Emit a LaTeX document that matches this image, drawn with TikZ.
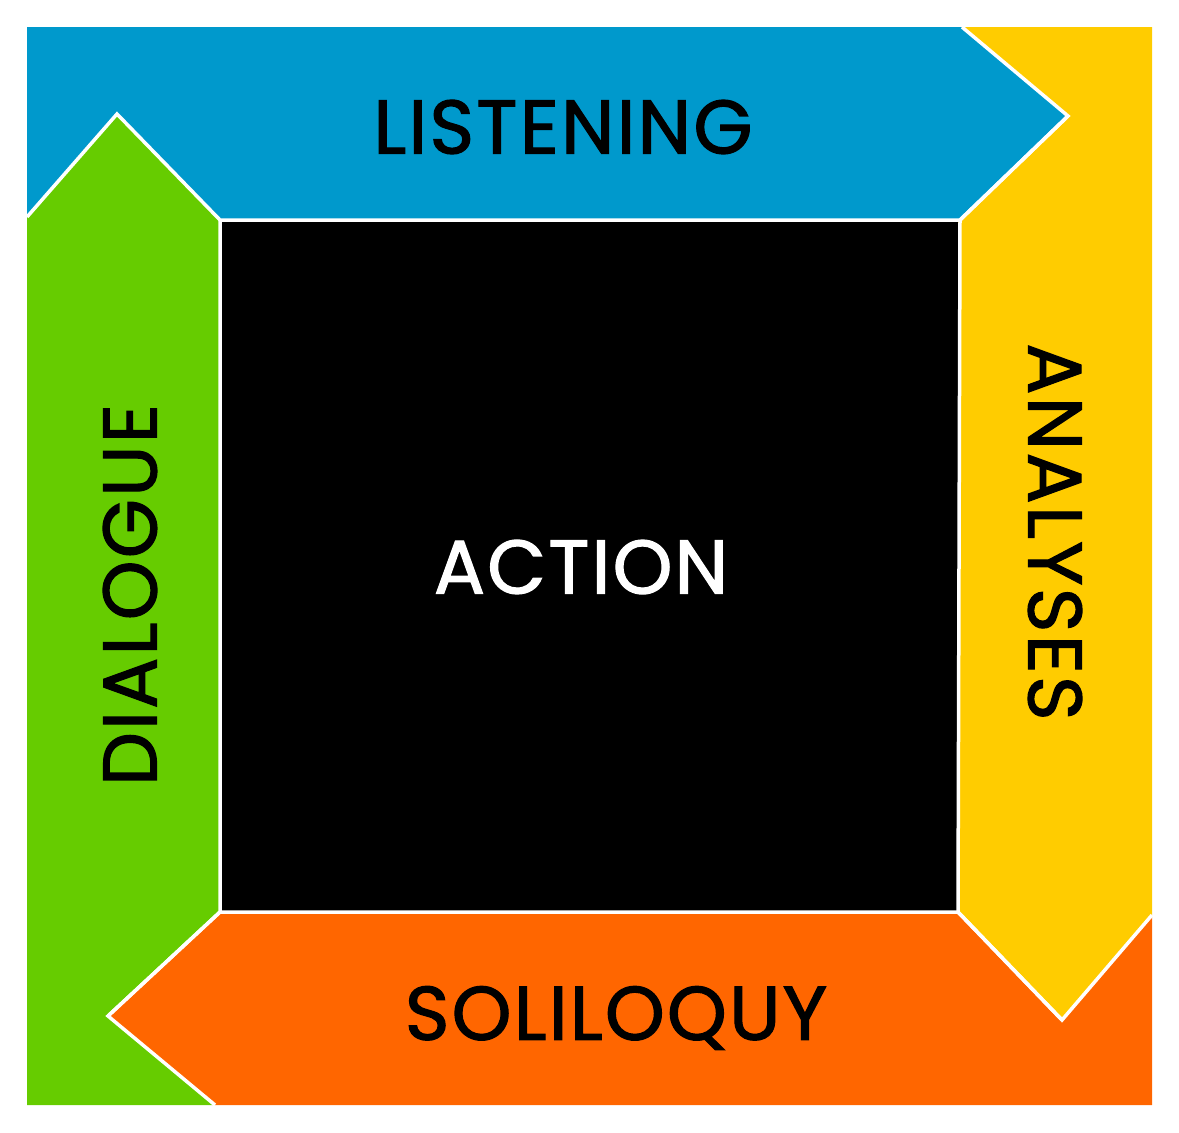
\documentclass[tikz,border=0pt]{standalone}
\usepackage{fontspec}
\setmainfont{Poppins}
\newfontfamily\bandfont{Poppins}[FakeBold=1.6, LetterSpace=3]
\usetikzlibrary{positioning}

\definecolor{listenblue}{HTML}{0099CC}
\definecolor{analysisyellow}{HTML}{FFCC00}
\definecolor{soliloquyorange}{HTML}{FF6600}
\definecolor{dialoguegreen}{HTML}{66CC00}

\tikzset{
    band/.style={draw=white, line width=3.5pt, line join=miter},
    word/.style={inner sep=0pt, font=\bandfont\fontsize{76}{80}\selectfont},
}

\begin{document}
\begin{tikzpicture}[x=1pt, y=-1pt]
    \useasboundingbox (0,0) rectangle (1179,1133);

    % arrow tips and corners
    \coordinate (tl) at (27,27);
    \coordinate (tr) at (1152,27);
    \coordinate (br) at (1152,1105);
    \coordinate (bl) at (27,1105);
    \coordinate (gtip) at (117,114);
    \coordinate (btip) at (1068,116);
    \coordinate (ytip) at (1062,1020);
    \coordinate (otip) at (108,1016);

    % bands
    \fill[listenblue] (tl) -- (962,27) -- (btip) -- (960,220) -- (220,220) -- (gtip) -- (27,217) -- cycle;
    \fill[analysisyellow] (962,27) -- (tr) -- (1152,915) -- (ytip) -- (958,912) -- (958,220) -- (btip) -- cycle;
    \fill[soliloquyorange] (1152,915) -- (br) -- (215,1105) -- (otip) -- (220,912) -- (958,912) -- (ytip) -- cycle;
    \fill[dialoguegreen] (27,217) -- (gtip) -- (220,220) -- (220,912) -- (otip) -- (215,1105) -- (bl) -- cycle;
    \fill[black] (220,220) rectangle (958,912);

    % white seams
    \draw[band] (27,217) -- (gtip) -- (220,220) -- (960,220) -- (btip) -- (962,27);
    \draw[band] (btip) -- (960,220) -- (958,912) -- (ytip) -- (1152,915);
    \draw[band] (ytip) -- (958,912) -- (220,912) -- (otip) -- (215,1105);
    \draw[band] (otip) -- (220,912) -- (220,220);

    % labels
    \node[word] (listening) at (563,127) {LISTENING};
    \node[word, text=white] (action) at (581,567) {ACTION};
    \node[word, rotate=90] (dialogue) at (130,595) {DIALOGUE};
    \node[word, rotate=-90] (analyses) at (1055,532) {ANALYSES};
    \node[word] (soliloquy) at (616,1018) {SOLILOQUY};
\end{tikzpicture}
\end{document}
